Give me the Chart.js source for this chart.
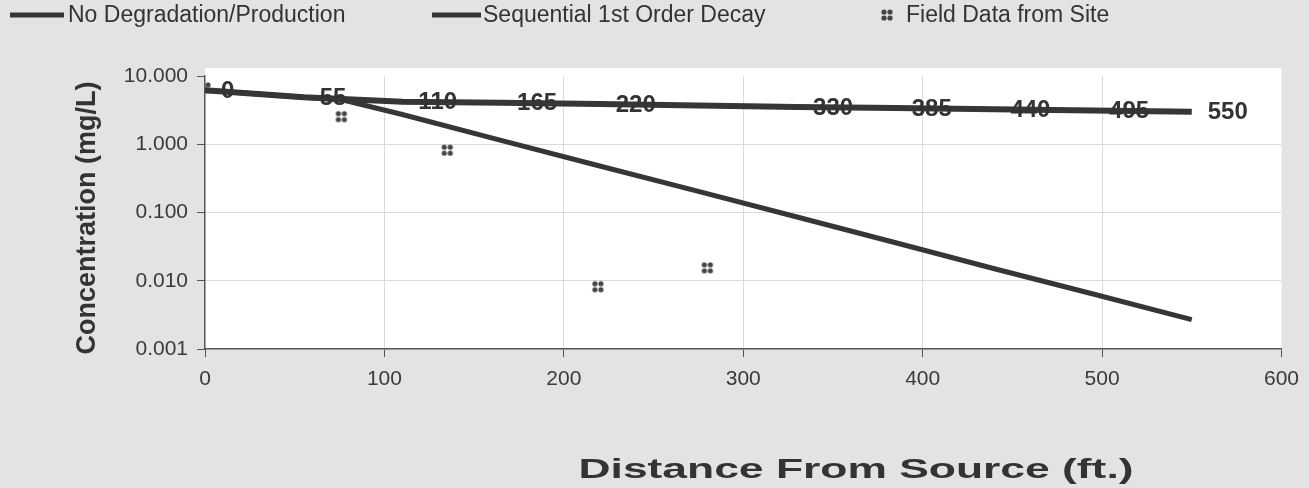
<!DOCTYPE html>
<html>
<head>
<meta charset="utf-8">
<script src="https://cdn.jsdelivr.net/npm/chart.js@4"></script>
<style>
  body { margin: 0; background: #e3e3e3; }
  #wrap { position: relative; width: 1309px; height: 488px; }
</style>
</head>
<body>
<div id="wrap"><canvas id="chart" width="1309" height="488"></canvas></div>
<script>
// distances in ft, concentrations in mg/L
const distances = [0, 55, 110, 165, 220, 275, 330, 385, 440, 495, 550];
const noDegradation = [6.2, 4.9, 4.2, 4.06, 3.89, 3.7, 3.5, 3.4, 3.25, 3.12, 3.0];
const decayDistances = [0, 55, 77, 110, 165, 220, 275, 330, 385, 440, 495, 550];
const sequentialDecay = [6.2, 4.9, 4.45, 2.73, 1.14, 0.48, 0.204, 0.086, 0.036, 0.015, 0.0064, 0.0027];
const fieldDistances = [0, 76, 135, 219, 280];
const fieldConc = [6.7, 2.54, 0.82, 0.0082, 0.0155];
const pointLabels = ['0', '55', '110', '165', '220', '', '330', '385', '440', '495', '550'];
const yTicks = [0.001, 0.01, 0.1, 1, 10];

const FONT = "'Liberation Sans', Arial, sans-serif";
const INK = '#363636';

// four-dot marker used for the field data
const marker = document.createElement('canvas');
marker.width = 14; marker.height = 14;
(function () {
  const c = marker.getContext('2d');
  c.fillStyle = '#454545';
  [[4, 4], [10, 4], [4, 10], [10, 10]].forEach(p => {
    c.beginPath(); c.arc(p[0], p[1], 2.6, 0, Math.PI * 2); c.fill();
  });
})();

const extras = {
  id: 'extras',
  beforeDraw(chart) {
    const { ctx, chartArea: a } = chart;
    ctx.save();
    ctx.fillStyle = '#ffffff';
    ctx.fillRect(a.left, a.top - 8, a.right - a.left, a.bottom - a.top + 8);
    ctx.restore();
  },
  afterDatasetsDraw(chart) {
    const ctx = chart.ctx;
    const meta = chart.getDatasetMeta(0);
    ctx.save();
    ctx.font = 'bold 24px ' + FONT;
    ctx.fillStyle = '#333';
    ctx.textAlign = 'left';
    ctx.textBaseline = 'middle';
    meta.data.forEach((pt, i) => {
      if (pointLabels[i]) ctx.fillText(pointLabels[i], pt.x + 16, pt.y + 1);
    });
    ctx.restore();
  },
  afterDraw(chart) {
    const ctx = chart.ctx;
    ctx.save();
    // legend
    ctx.strokeStyle = INK;
    ctx.lineWidth = 5;
    ctx.beginPath(); ctx.moveTo(10, 15); ctx.lineTo(64, 15); ctx.stroke();
    ctx.beginPath(); ctx.moveTo(432, 15); ctx.lineTo(481, 15); ctx.stroke();
    ctx.drawImage(marker, 880, 8);
    ctx.font = '23px ' + FONT;
    ctx.fillStyle = '#333';
    ctx.textBaseline = 'middle';
    ctx.textAlign = 'left';
    ctx.fillText('No Degradation/Production', 68, 16);
    ctx.fillText('Sequential 1st Order Decay', 483, 16);
    ctx.fillText('Field Data from Site', 906, 16);

    // axis titles
    ctx.font = 'bold 27px ' + FONT;
    ctx.textAlign = 'center';
    ctx.save();
    ctx.translate(88, 218);
    ctx.rotate(-Math.PI / 2);
    ctx.fillText('Concentration (mg/L)', 0, 0);
    ctx.restore();

    const xTitle = 'Distance From Source (ft.)';
    ctx.font = 'bold 28px ' + FONT;
    const w = ctx.measureText(xTitle).width;
    ctx.translate(856, 470);
    ctx.scale(555 / w, 1);
    ctx.fillText(xTitle, 0, 0);
    ctx.restore();
  }
};

new Chart(document.getElementById('chart'), {
  type: 'line',
  data: {
    datasets: [{
      label: 'No Degradation/Production',
      data: distances.map((d, i) => ({ x: d, y: noDegradation[i] })),
      borderColor: INK,
      borderWidth: 6,
      pointRadius: 0,
      tension: 0
    }, {
      label: 'Sequential 1st Order Decay',
      data: decayDistances.map((d, i) => ({ x: d, y: sequentialDecay[i] })),
      borderColor: INK,
      borderWidth: 5,
      pointRadius: 0,
      tension: 0
    }, {
      type: 'scatter',
      label: 'Field Data from Site',
      data: fieldDistances.map((d, i) => ({ x: d, y: fieldConc[i] })),
      pointStyle: marker,
      showLine: false
    }]
  },
  options: {
    responsive: false,
    animation: false,
    layout: { padding: { top: 76, right: 25, left: 0, bottom: 0 } },
    plugins: { legend: { display: false }, tooltip: { enabled: false } },
    scales: {
      x: {
        type: 'linear',
        min: 0,
        max: 600,
        ticks: { stepSize: 100, color: '#3a3a3a', font: { size: 21, family: FONT }, padding: 10 },
        grid: {
          color: c => (c.tick && (c.tick.value === 0 || c.tick.value === 600)) ? 'rgba(0,0,0,0)' : '#dadada',
          tickColor: '#555',
          tickLength: 8
        },
        border: { color: '#555', width: 1.5 },
        afterFit(s) { s.height = 139; }
      },
      y: {
        type: 'logarithmic',
        min: 0.001,
        max: 10,
        afterBuildTicks(s) { s.ticks = yTicks.map(v => ({ value: v })); },
        ticks: {
          color: '#3a3a3a',
          font: { size: 21, family: FONT },
          padding: 9,
          callback: v => Number(v).toFixed(3)
        },
        grid: {
          color: c => (c.tick && (c.tick.value === 10 || c.tick.value === 0.001)) ? 'rgba(0,0,0,0)' : '#dadada',
          tickColor: '#555',
          tickLength: 8
        },
        border: { color: '#555', width: 1.5 },
        afterFit(s) { s.width = 205; }
      }
    }
  },
  plugins: [extras]
});
</script>
</body>
</html>
